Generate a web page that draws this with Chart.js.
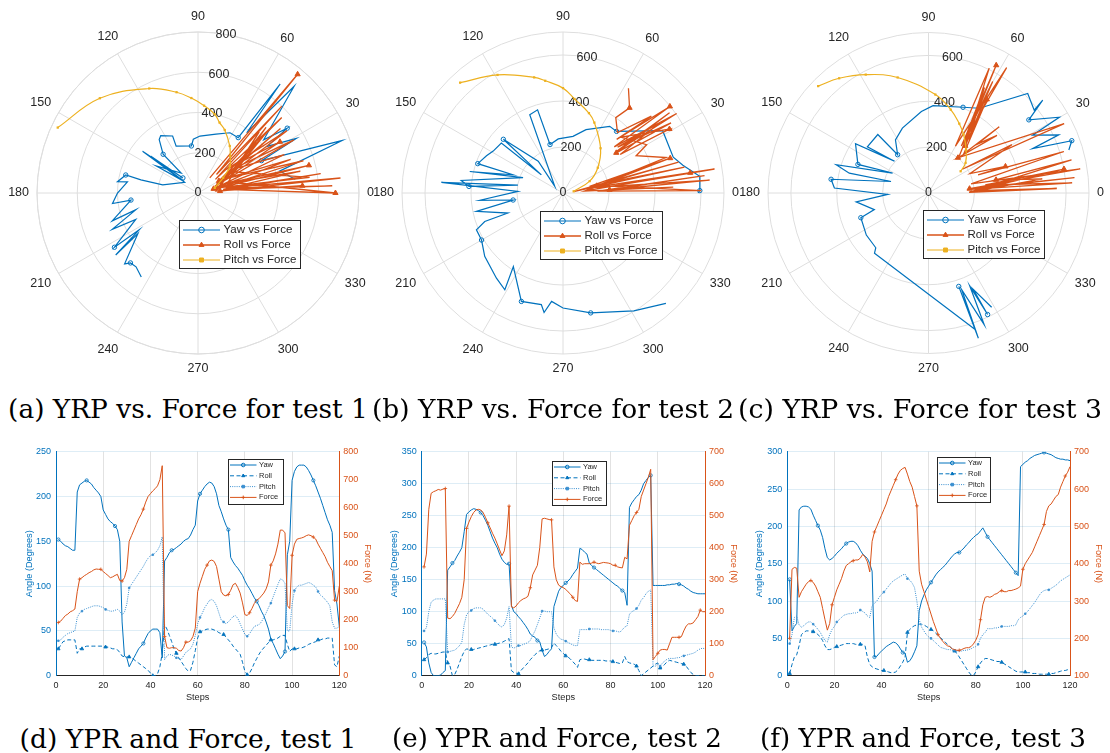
<!DOCTYPE html>
<html>
<head>
<meta charset="utf-8">
<script src="https://cdn.jsdelivr.net/npm/chart.js@4.4.1/dist/chart.umd.min.js"></script>
<style>
  body { margin: 0; width: 1110px; height: 753px; overflow: hidden; background: #fff; position: relative; }
  canvas { position: absolute; }
  .cap { position: absolute; font-family: 'DejaVu Serif', serif; color: #000; white-space: nowrap; transform: translate(-50%, -50%); }
</style>
</head>
<body>
<canvas id="p1" width="380" height="385" style="left:0;top:0"></canvas>
<canvas id="p2" width="380" height="385" style="left:370px;top:0"></canvas>
<canvas id="p3" width="370" height="385" style="left:740px;top:0"></canvas>
<canvas id="l1" width="380" height="280" style="left:0;top:430px"></canvas>
<canvas id="l2" width="380" height="280" style="left:370px;top:430px"></canvas>
<canvas id="l3" width="370" height="280" style="left:740px;top:430px"></canvas>

<div class="cap" data-w="360" style="left:188px;top:408px">(a) YRP vs. Force for test 1</div>
<div class="cap" data-w="362" style="left:553px;top:408px">(b) YRP vs. Force for test 2</div>
<div class="cap" data-w="364" style="left:920px;top:408px">(c) YRP vs. Force for test 3</div>
<div class="cap" data-w="337" style="left:188px;top:738px">(d) YPR and Force, test 1</div>
<div class="cap" data-w="330" style="left:557px;top:738px">(e) YPR and Force, test 2</div>
<div class="cap" data-w="326" style="left:923px;top:738px">(f) YPR and Force, test 3</div>

<script>
// steps 1..120
const steps = Array.from({length: 120}, (_, i) => i + 1);

// ---- test 1 (line chart) ----
const yaw1 = [152,150,147,145,144,142,140,140,205,213, 215,217,218,216,214,210,207,204,200,185,
  180,175,172,170,167,163,150,60,22,20, 10,15,20,25,30,33,36,42,47,50,
  52,52,52,48,20,128,132,137,140,141, 143,145,147,150,152,153,157,163,168,195,
  203,207,211,214,216,215,211,203,190,183, 175,168,163,132,127,123,120,116,112,106,
  101,97,92,87,83,78,72,67,60,52, 41,36,30,24,19,22,27,135,150,218,
  228,233,235,235,235,233,229,224,218,212, 205,198,190,182,174,168,160,95,80,55];
const roll1 = [30,34,38,39,40,40,40,40,25,30, 30,32,33,33,33,33,33,33,33,33,
  32,32,31,30,30,29,26,22,21,21, 21,20,18,16,14,12,10,8,6,3,
  0,0,2,10,25,57,52,45,38,30, 25,20,16,12,8,5,6,15,28,42,
  49,50,51,52,52,52,51,50,48,47, 46,43,40,37,33,30,27,24,15,5,
  1,3,8,14,19,24,28,31,34,37, 40,40,41,42,44,45,45,35,27,30,
  30,30,31,31,32,33,35,36,37,38, 40,40,41,41,42,42,42,12,10,22];
const pitch1 = [39,40,43,45,47,48,49,50,65,70, 72,74,75,76,77,78,78,78,77,76,
  74,73,72,72,73,74,72,68,71,80, 98,102,106,110,114,118,122,127,131,134,
  135,137,140,145,155,18,22,24,23,22, 20,19,18,22,26,28,30,35,45,58,
  65,70,76,80,84,85,83,78,70,62, 60,58,60,63,66,67,64,58,52,46,
  44,47,51,55,56,57,60,65,70,76, 81,88,95,102,108,107,103,50,50,80,
  95,99,101,101,102,103,104,103,101,99, 94,90,88,85,82,78,60,53,53,55];
const force1 = [190,195,205,215,220,228,232,238,300,345, 350,357,362,368,372,378,381,380,380,372,
  365,358,350,353,358,362,340,338,350,380, 480,500,520,540,560,575,595,620,640,650,
  660,668,678,700,750,140,100,98,100,100, 98,90,88,100,120,120,125,140,170,300,
  330,355,380,395,410,413,408,390,345,300, 288,285,290,305,325,330,315,295,260,218,
  215,225,240,258,270,275,285,295,310,335, 395,410,435,470,520,520,510,250,240,430,
  470,487,490,492,495,500,503,500,495,488, 470,455,440,425,405,390,375,270,265,320];

// ---- test 2 (line chart) ----
const yaw2 = [52,45,20,5,0,0,0,1,5,8, 165,170,176,180,187,193,200,225,252,256,
  259,261,260,258,255,250,243,235,225,215, 207,200,190,182,177,174,175,110,100,97,
  92,88,83,78,72,65,62,60,55,53, 40,30,33,38,42,108,120,132,138,141,
  145,148,152,158,163,168,199,197,193,190, 176,172,169,166,163,160,157,154,151,148,
  145,142,140,136,133,130,110,263,270,275, 280,283,290,300,305,310,313,141,141,141,
  141,141,141,142,142,143,143,144,143,142, 140,137,135,132,130,129,128,128,128,128];
const roll2 = [25,28,33,35,34,34,35,36,37,37, 20,15,0,2,10,20,30,38,42,41,
  41,41,42,43,44,45,46,47,48,49, 49,50,51,52,54,56,58,8,5,4,
  3,8,12,16,20,25,29,33,36,39, 40,40,41,42,44,51,47,43,38,35,
  31,29,26,22,18,13,25,26,26,25, 25,24,24,24,24,24,24,23,23,23,
  22,21,20,19,20,30,22,20,19,18, 15,8,0,3,6,9,12,15,18,20,
  12,14,18,22,24,23,22,21,20,19, 18,15,10,5,2,0,0,0,0,0];
const pitch2 = [70,75,100,115,118,120,120,120,120,120, 37,38,39,40,43,47,52,80,95,100,
  102,105,106,106,106,104,100,96,93,90, 86,82,78,76,80,90,108,45,43,45,
  47,47,49,50,52,55,63,70,80,90, 101,101,100,100,100,75,65,60,57,56,
  54,52,50,48,47,47,72,72,72,72, 73,73,73,73,73,72,72,72,72,71,
  70,70,69,68,72,76,78,96,100,102, 105,110,118,122,128,132,134,15,15,18,
  15,20,23,26,27,27,27,28,28,30, 31,32,33,34,35,37,40,42,43,42];
const force2 = [340,380,520,570,575,578,582,580,583,585, 180,178,185,195,210,225,245,300,460,480,
  497,510,518,520,518,510,495,478,462,445, 430,412,393,375,390,440,530,215,212,218,
  228,235,240,243,248,275,315,330,345,400, 490,492,490,488,487,340,300,283,278,275,
  270,262,255,245,235,232,355,348,350,350, 350,352,355,352,350,352,354,353,352,350,
  345,345,340,338,337,370,365,470,485,500, 510,520,560,580,600,620,645,50,60,70,
  80,82,82,80,100,120,120,120,120,122, 140,155,162,162,165,175,185,205,200,200];

// ---- test 3 (line chart) ----
const yaw3 = [129,60,66,70,222,226,227,227,226,223, 215,208,201,195,185,170,158,155,157,160,
  164,167,170,174,177,179,180,180,178,174, 168,163,160,157,150,140,25,26,30,33,
  36,39,41,43,45,44,41,36,31,30, 18,20,25,32,40,87,100,108,115,120,
  125,130,135,139,142,145,148,152,156,160, 163,165,165,168,171,175,178,182,185,188,
  190,194,198,192,186,182,178,174,170,166, 162,158,154,150,146,142,138,134,280,283,
  286,288,291,293,295,296,297,298,299,298, 297,296,294,292,291,290,290,289,289,288];
const roll3 = [3,15,25,28,40,55,58,60,60,60, 59,58,55,52,47,40,35,35,36,38,
  39,40,41,42,43,43,43,43,42,42, 42,42,40,25,15,12,10,9,8,7,
  7,6,5,4,4,5,8,13,18,25, 58,62,65,67,68,69,69,68,66,64,
  62,60,57,54,51,48,45,42,39,36, 33,30,25,20,15,10,5,1,0,5,
  12,17,21,23,23,22,21,20,19,19, 18,16,14,12,10,8,6,5,5,5,
  5,4,4,3,3,3,2,2,2,2, 2,3,3,4,5,6,7,7,8,8];
const pitch3 = [43,55,78,80,68,65,67,70,72,72, 69,66,62,58,52,47,45,55,62,66,
  72,75,78,81,82,83,83,84,84,85, 88,86,84,80,78,94,97,100,105,109,
  112,116,120,124,127,129,131,133,135,136, 130,128,124,118,100,75,65,60,55,52,
  50,47,44,41,38,37,36,35,35,34, 34,33,33,33,34,34,35,36,38,39,
  42,50,55,58,63,63,63,64,64,65, 66,66,66,66,67,67,68,75,78,80,
  83,86,90,94,98,103,108,112,114,115, 115,117,119,121,124,127,129,131,133,135];
const force3 = [200,385,390,388,310,325,335,345,352,355, 350,340,325,310,280,250,222,240,290,310,
  330,345,360,380,395,400,405,408,410,410, 415,425,418,405,378,460,485,500,515,530,
  545,560,580,595,610,625,640,650,655,658, 640,620,605,580,555,380,345,325,305,285,
  265,245,228,210,200,192,185,180,178,172, 170,168,168,170,173,175,175,178,185,195,
  210,250,290,310,312,310,313,318,320,325, 328,325,325,328,328,330,332,335,340,385,
  400,410,420,430,445,460,475,490,505,540, 555,560,570,580,585,605,620,635,645,660];

// ---- polar plots: paths (angle in degrees, radius in N) ----
const polYawDeg1 = [236,230,226,224,214,217,212,213,203,203,195,198,186,187,180,171,172,166,167,167,
  141,143,135,142,140,147,130,132,126,123,114,115,98,95,88,73,62,54,53,51,48,39,36,34,29,27,20,27,20,15,8];
const polYawR1 = [504,479,483,507,360,512,345,495,336,463,319,448,335,428,400,355,404,370,291,180,
  85,345,106,297,90,247,130,259,328,340,310,257,236,268,283,306,339,340,678,385,714,420,548,414,559,354,770,354,760,420,488];
const polRollDeg1 = [52,50,45,46,38,42,30,38,25,35,40,32,22,29,35,24,15,20,28,17,12,14,20,12,8,9,5,6,10,3,8,0,20,45,25,42,15,8,30,44,6,4];
const polRollR1 = [95,770,130,600,110,560,120,520,100,540,180,480,90,545,200,470,80,490,150,548,70,568,120,520,126,617,110,712,140,668,126,683,160,430,170,480,100,560,210,470,90,520];

const polYawDeg2 = [313,301,283,270,264,261,259,249,236,239,232,219,210,203,200,200,192,188,185,178,175,170,176,173,159,167,160,161,154,149,141,140,138,128,141,113,107,105,95,80,70,55,49,32,18,13,7,1,0];
const polYawR2 = [656,598,535,500,474,526,494,505,386,491,470,438,409,409,362,255,385,219,363,196,531,199,410,446,186,416,232,392,370,354,345,123,349,175,46,370,378,218,236,250,293,354,355,511,504,535,599,595,587];
const polRollDeg2 = [58,52,55,48,41,45,39,42,35,38,37,37,33,40,36,34,31,44,30,27,19,12,15,8,12,14,18,6,9,10,5,4,7,3,1,10,9,5,3];
const polRollR2 = [537,470,400,354,509,330,598,300,603,290,580,290,560,310,520,300,540,350,420,357,474,150,520,51,540,119,490,100,667,140,640,203,620,150,601,180,560,90,480];

const polYawDeg3 = [299,295,296,294,293,289,289,288,289,228,226,214,200,197,187,182,177,172,163,166,163,151,158,146,137,143,131,129,122,112,95,87,68,59,45,38,39,36,30,29,24,23,20,17];
const polYawR3 = [568,462,588,443,622,445,668,427,629,352,331,327,314,247,318,178,411,429,171,356,421,179,332,384,203,334,337,214,272,304,356,380,402,430,612,585,641,541,659,519,622,493,665,640];
const polRollDeg3 = [50,62,55,58,60,64,52,60,56,62,53,58,48,43,45,40,50,27,35,30,25,19,20,17,12,9,6,6,5,4,8,10,3,2,1,7,11,13,2];
const polRollR3 = [208,629,250,643,235,604,260,560,280,520,292,480,230,422,300,390,200,664,180,420,200,355,230,617,190,670,180,640,182,628,250,600,200,560,177,500,300,640,190];

// pitch curves
const pArcDeg1 = [155,136,115,102,94,86,78,73,67,56,49,40,31,17];
const pArcR1   = [769,678,573,512,473,435,400,366,340,282,244,207,146,87];
const pArcDeg2 = [133,119,104,99,90,83,72,66,50,36,24,9];
const pArcR2   = [656,587,518,494,456,412,365,335,254,187,127,47];
const pArcDeg3 = [136,128,118,105,86,75,66,59,49,39,34];
const pArcR3   = [669,633,583,520,429,375,330,297,250,208,169];

const angleTicks = [0,30,60,90,120,150,180,210,240,270,300,330];

const BLUE = '#0072BD', ORANGE = '#D95319', YELLOW = '#EDB120', PITCHBLUE = '#3a8fd0', TXT = '#262626';
Chart.defaults.font.family = '"Liberation Sans", Arial, sans-serif';
Chart.defaults.animation = false;

// legend box drawn at fixed place inside the canvas
const boxLegend = {
  id: 'boxLegend',
  afterDraw(chart, args, o) {
    const ctx = chart.ctx;
    ctx.save();
    ctx.fillStyle = '#fff';
    ctx.fillRect(o.x, o.y, o.w, o.h);
    ctx.strokeStyle = TXT; ctx.lineWidth = 1;
    ctx.strokeRect(Math.round(o.x) + 0.5, Math.round(o.y) + 0.5, Math.round(o.w), Math.round(o.h));
    ctx.font = o.font + 'px "Liberation Sans"';
    ctx.textBaseline = 'middle';
    chart.data.datasets.forEach((ds, i) => {
      const yy = o.y + o.row0 + i * o.rowH;
      ctx.strokeStyle = ds.borderColor;
      ctx.lineWidth = ds.borderWidth;
      ctx.setLineDash(ds.borderDash || []);
      ctx.beginPath(); ctx.moveTo(o.x + o.l0, yy); ctx.lineTo(o.x + o.l1, yy); ctx.stroke();
      ctx.setLineDash([]);
      ctx.fillStyle = ds.pointBackgroundColor;
      ctx.lineWidth = 1;
      Chart.helpers.drawPoint(ctx, {pointStyle: ds.pointStyle, radius: o.mr, borderWidth: 1, rotation: 0}, o.x + (o.l0 + o.l1) / 2, yy);
      ctx.fillStyle = TXT;
      ctx.fillText(ds.label, o.x + o.tx, yy);
    });
    ctx.restore();
  }
};

// polar grid, angle labels and radius labels
const polarGrid = {
  id: 'polarGrid',
  beforeDatasetsDraw(chart, args, o) {
    const {ctx, scales: {x, y}} = chart;
    const cx = x.getPixelForValue(0), cy = y.getPixelForValue(0);
    const k = (x.getPixelForValue(o.rMax) - cx) / o.rMax;
    const R = o.rMax * k;
    ctx.save();
    ctx.strokeStyle = '#dedede'; ctx.lineWidth = 1;
    o.rTicks.concat([o.rMax]).forEach(r => {
      if (r <= 0) return;
      ctx.beginPath(); ctx.arc(cx, cy, r * k, 0, 2 * Math.PI); ctx.stroke();
    });
    angleTicks.forEach(a => {
      const t = a * Math.PI / 180;
      ctx.beginPath(); ctx.moveTo(cx, cy); ctx.lineTo(cx + Math.cos(t) * R, cy - Math.sin(t) * R); ctx.stroke();
    });
    ctx.fillStyle = TXT;
    ctx.font = '12.5px "Liberation Sans"';
    ctx.textAlign = 'center'; ctx.textBaseline = 'middle';
    angleTicks.forEach(a => {
      const t = a * Math.PI / 180, c = Math.cos(t), s = Math.sin(t);
      const w = ctx.measureText(String(a)).width;
      const d = R + 8 + Math.abs(c) * w / 2 + Math.abs(s) * 7;
      ctx.fillText(String(a), cx + c * d, cy - s * d);
    });
    const tr = 80 * Math.PI / 180;
    o.rTicks.forEach(r => {
      ctx.fillText(String(r), cx + Math.cos(tr) * r * k, cy - Math.sin(tr) * r * k);
    });
    ctx.restore();
  }
};

function toXY(deg, rad) {
  return deg.map((a, i) => ({x: rad[i] * Math.cos(a * Math.PI / 180), y: rad[i] * Math.sin(a * Math.PI / 180)}));
}

function polarChart(id, yawDeg, yawR, rollDeg, rollR, arcDeg, arcR, rMax, rTicks, pad, legend) {
  new Chart(document.getElementById(id), {
    type: 'scatter',
    data: {
      datasets: [
        {label: 'Yaw vs Force', data: toXY(yawDeg, yawR), showLine: true, borderColor: BLUE, borderWidth: 1.2,
         pointStyle: 'circle', pointRadius: c => c.index % 5 === 2 ? 2.2 : 0, pointBackgroundColor: 'rgba(0,0,0,0)',
         pointBorderColor: BLUE, pointBorderWidth: 1, order: 3},
        {label: 'Roll vs Force', data: toXY(rollDeg, rollR), showLine: true, borderColor: ORANGE, borderWidth: 1.3,
         pointStyle: 'triangle', pointRadius: c => c.index % 5 === 1 ? 3 : 0, pointBackgroundColor: ORANGE,
         pointBorderColor: ORANGE, pointBorderWidth: 1, order: 2},
        {label: 'Pitch vs Force', data: toXY(arcDeg, arcR), showLine: true, borderColor: YELLOW, borderWidth: 1.2,
         tension: 0.4, pointStyle: 'rect', pointRadius: 1.6, pointBackgroundColor: YELLOW,
         pointBorderColor: YELLOW, pointBorderWidth: 0, order: 1}
      ]
    },
    options: {
      responsive: false, devicePixelRatio: 1,
      layout: {padding: pad},
      scales: {
        x: {type: 'linear', min: -rMax, max: rMax, display: false},
        y: {type: 'linear', min: -rMax, max: rMax, display: false}
      },
      plugins: {
        legend: {display: false}, tooltip: {enabled: false},
        polarGrid: {rMax, rTicks},
        boxLegend: Object.assign({font: 11.5, row0: 10, rowH: 15, l0: 4, l1: 41, tx: 44.5, mr: 2.8}, legend)
      }
    },
    plugins: [polarGrid, boxLegend]
  });
}

polarChart('p1', polYawDeg1, polYawR1, polRollDeg1, polRollR1, pArcDeg1, pArcR1, 800, [0,200,400,600,800],
  {left: 37, right: 21, top: 32, bottom: 31}, {x: 179, y: 220, w: 121, h: 48});
polarChart('p2', polYawDeg2, polYawR2, polRollDeg2, polRollR2, pArcDeg2, pArcR2, 700, [0,200,400,600],
  {left: 32, right: 26, top: 32, bottom: 31}, {x: 170, y: 211, w: 122, h: 48});
polarChart('p3', polYawDeg3, polYawR3, polRollDeg3, polRollR3, pArcDeg3, pArcR3, 700, [0,200,400,600],
  {left: 28, right: 21, top: 32, bottom: 31}, {x: 183, y: 210, w: 121, h: 48});

function series(label, vals, color, axis, dash, style, every, fill, r, order) {
  return {
    label, data: vals.map((v, i) => ({x: steps[i], y: v})), yAxisID: axis,
    borderColor: color, borderWidth: 1, borderDash: dash, tension: 0,
    pointStyle: style, pointRadius: c => c.index % every === 0 ? r : 0,
    pointBackgroundColor: fill, pointBorderColor: color, pointBorderWidth: 0.8, order
  };
}

function lineChart(id, yaw, roll, pitch, force, lMax, rMin, rMax, lay, legend) {
  const tickFont = {size: 9};
  const titleFont = {size: 9.2};
  new Chart(document.getElementById(id), {
    type: 'line',
    data: {
      datasets: [
        series('Yaw', yaw, BLUE, 'yL', [], 'circle', 12, 'rgba(0,0,0,0)', 1.6, 3),
        series('Roll', roll, BLUE, 'yL', [4, 2.5], 'triangle', 10, BLUE, 2, 2),
        series('Pitch', pitch, PITCHBLUE, 'yL', [1, 1.2], 'rect', 10, PITCHBLUE, 1.1, 1),
        series('Force', force, ORANGE, 'yR', [], 'cross', 9, ORANGE, 1.8, 0)
      ]
    },
    options: {
      responsive: false, devicePixelRatio: 1,
      layout: {padding: {left: lay.padL, right: lay.padR, top: 21.7, bottom: 3.3}},
      scales: {
        x: {type: 'linear', min: 0, max: 120,
            ticks: {stepSize: 20, color: TXT, font: tickFont, padding: 4, maxRotation: 0},
            grid: {color: '#e2e2e2', drawTicks: false}, border: {color: TXT},
            title: {display: true, text: 'Steps', color: TXT, font: titleFont},
            afterFit: s => { s.height = 31; }},
        yL: {position: 'left', min: 0, max: lMax,
             ticks: {stepSize: 50, color: BLUE, font: tickFont, padding: 5},
             grid: {color: 'rgba(0,114,189,0.13)', drawTicks: false}, border: {color: BLUE},
             title: {display: true, text: 'Angle (Degrees)', color: BLUE, font: titleFont},
             afterFit: s => { s.width = lay.wL; }},
        yR: {position: 'right', min: rMin, max: rMax,
             ticks: {stepSize: 100, color: ORANGE, font: tickFont, padding: 4},
             grid: {display: false, drawTicks: false}, border: {color: ORANGE},
             title: {display: true, text: 'Force (N)', color: ORANGE, font: titleFont},
             afterFit: s => { s.width = lay.wR; }}
      },
      plugins: {
        legend: {display: false}, tooltip: {enabled: false},
        boxLegend: Object.assign({font: 7.5, row0: 6, rowH: 10.8, l0: 2, l1: 28.5, tx: 31, mr: 1.8}, legend)
      }
    },
    plugins: [boxLegend]
  });
}

lineChart('l1', yaw1, roll1, pitch1, force1, 250, 0, 800,
  {padL: 20, wL: 36, padR: 3, wR: 37.7}, {x: 228, y: 29, w: 55, h: 45});
lineChart('l2', yaw2, roll2, pitch2, force2, 350, 0, 700,
  {padL: 15, wL: 36.7, padR: 7.3, wR: 37.7}, {x: 182, y: 31, w: 54, h: 44});
lineChart('l3', yaw3, roll3, pitch3, force3, 300, 100, 700,
  {padL: 10, wL: 37.3, padR: 2, wR: 38}, {x: 197, y: 27, w: 53, h: 44.5});

// fit caption size to the width they take in the figure
const mctx = document.createElement('canvas').getContext('2d');
document.querySelectorAll('.cap').forEach(el => {
  mctx.font = '20px "DejaVu Serif"';
  const w = mctx.measureText(el.textContent).width;
  el.style.fontSize = (20 * Number(el.dataset.w) / w) + 'px';
});
</script>
</body>
</html>
